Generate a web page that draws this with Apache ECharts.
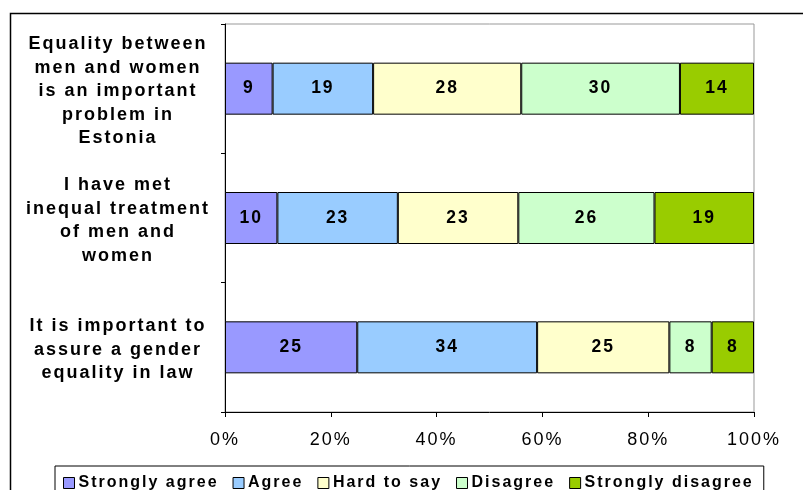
<!DOCTYPE html>
<html>
<head>
<meta charset="utf-8">
<script src="https://cdn.jsdelivr.net/npm/echarts@6/dist/echarts.min.js"></script>
<style>
  html, body { margin: 0; padding: 0; background: #fff; }
  #chart { width: 803px; height: 490px; }
</style>
</head>
<body>
<div id="chart"></div>
<script>
// the original (an Excel chart) uses spaced-out letters; give every 2d canvas a bit of tracking
const origGetContext = HTMLCanvasElement.prototype.getContext;
HTMLCanvasElement.prototype.getContext = function (type, opts) {
  const ctx = origGetContext.call(this, type, opts);
  if (type === "2d" && ctx && "letterSpacing" in ctx) ctx.letterSpacing = "2px";
  return ctx;
};

const questions = [
  "Equality between\nmen and women\nis an important\nproblem in\nEstonia",
  "I have met\ninequal treatment\nof men and\nwomen",
  "It is important to\nassure a gender\nequality in law",
];
const answers = ["Strongly agree", "Agree", "Hard to say", "Disagree", "Strongly disagree"];
const colors = ["#9999FF", "#99CCFF", "#FFFFCC", "#CCFFCC", "#99CC00"];

// one array per answer, one value per question (same order as questions)
const stronglyAgree = [9, 10, 25];
const agree = [19, 23, 34];
const hardToSay = [28, 23, 25];
const disagree = [30, 26, 8];
const stronglyDisagree = [14, 19, 8];

const xTicks = [0, 20, 40, 60, 80, 100];

const rows = [stronglyAgree, agree, hardToSay, disagree, stronglyDisagree];
// 100% stacked: each bar is scaled to its row total, labels keep the raw numbers
const totals = questions.map((_, i) => rows.reduce((s, r) => s + r[i], 0));

const chart = echarts.init(document.getElementById("chart"));
const font = "'Liberation Sans', Arial, sans-serif";

chart.setOption({
  animation: false,
  backgroundColor: "#fff",
  textStyle: { fontFamily: font, color: "#000" },
  graphic: [
    {
      type: "rect",
      shape: { x: 10.5, y: 13.5, width: 900, height: 600 },
      style: { fill: "none", stroke: "#000", lineWidth: 1.5 },
      silent: true,
    },
  ],
  grid: {
    left: 225, top: 24, right: 49, bottom: 78,
    show: true, borderColor: "#999", borderWidth: 1,
  },
  legend: {
    left: 55, top: 466,
    padding: [8, 10, 12, 8],
    itemGap: 14,
    itemWidth: 11, itemHeight: 11,
    itemStyle: { borderColor: "#000", borderWidth: 1 },
    icon: "rect",
    borderColor: "#000", borderWidth: 1,
    textStyle: { fontFamily: font, fontWeight: "bold", fontSize: 16, color: "#000", padding: [0, 0, 0, -1] },
    data: answers,
  },
  xAxis: {
    type: "value",
    min: xTicks[0], max: xTicks[xTicks.length - 1], interval: 20,
    axisLine: { show: true, lineStyle: { color: "#000", width: 1 } },
    axisTick: { show: true, length: 5, lineStyle: { color: "#000" } },
    splitLine: { show: false },
    axisLabel: { formatter: "{value}%", fontSize: 18, color: "#000", margin: 18, fontFamily: font },
  },
  yAxis: {
    type: "category",
    inverse: true,
    data: questions,
    axisLine: { show: true, lineStyle: { color: "#000", width: 1 } },
    axisTick: { show: true, length: 4, lineStyle: { color: "#000" } },
    axisLabel: {
      fontSize: 18, fontWeight: "bold", color: "#000", fontFamily: font,
      align: "center", lineHeight: 23.5, margin: 107,
      formatter: (v) => "{q|" + v.split("\n").join("}\n{q|") + "}",
      rich: { q: { fontSize: 18, fontWeight: "bold", fontFamily: font, lineHeight: 23.5 } },
      padding: [5, 0, 0, 0],
    },
  },
  series: rows.map((row, k) => ({
    name: answers[k],
    type: "bar",
    stack: "total",
    barWidth: 52,
    itemStyle: { color: colors[k], borderColor: "#000", borderWidth: 1 },
    label: {
      show: true, position: "inside", color: "#000",
      fontSize: 17.5, fontWeight: "bold", fontFamily: font,
      formatter: (p) => String(row[p.dataIndex]),
    },
    data: row.map((v, i) => (v / totals[i]) * 100),
  })),
});
</script>
</body>
</html>
